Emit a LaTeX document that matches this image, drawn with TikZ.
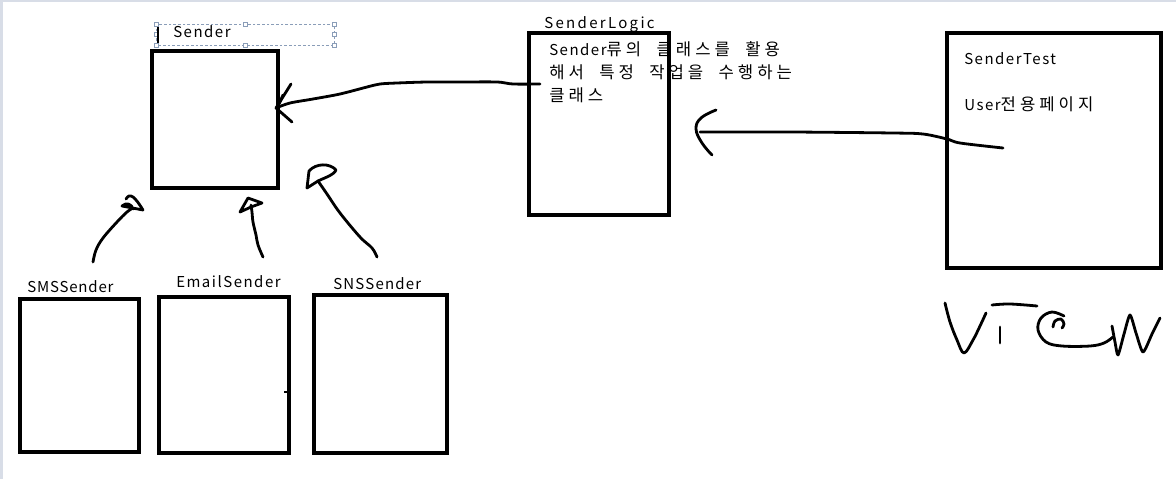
\documentclass[tikz,border=0pt]{standalone}
\usepackage{fontspec}
\setmainfont{Noto Sans CJK KR}[LetterSpace=10]
\definecolor{edge}{HTML}{D8DDE7}
\definecolor{selbox}{HTML}{8A9DB8}
\makeatletter
\newcommand\hg[1]{{\fontsize{12.5pt}{17.25pt}\selectfont\@tfor\hg@c:=#1\do{\hg@c\hskip3pt\relax}}}
\makeatother
\newcommand\wsp{\hspace*{8.5pt}}
\tikzset{
  box/.style={draw=black, line width=2.6pt, rectangle, inner sep=0pt},
  lbl/.style={anchor=base west, inner sep=0pt, font=\fontsize{11.25pt}{17.25pt}\selectfont},
  hand/.style={draw=black, line width=2.1pt, line cap=round, line join=round},
  handle/.style={draw=selbox, fill=white, line width=0.5pt, rectangle, minimum size=3pt, inner sep=0pt},
}
\begin{document}
\begin{tikzpicture}[x=0.75pt, y=-0.75pt]
\useasboundingbox (0,0) rectangle (1176,479);
\fill[white] (0,0) rectangle (1176,479);
\fill[edge] (0,0) rectangle (2.5,479);
\fill[edge] (0,0) rectangle (1176,1.5);

% boxes
\node[box, minimum width=94.5pt, minimum height=102.75pt] (sender) at (215,119.5) {};
\node[box, minimum width=105pt, minimum height=136.5pt] (logic) at (599,124) {};
\node[box, minimum width=160.5pt, minimum height=176.25pt] (test) at (1054,150.5) {};
\node[box, minimum width=89.25pt, minimum height=114.75pt] (sms) at (79.5,375.5) {};
\node[box, minimum width=97.5pt, minimum height=117pt] (email) at (224,375) {};
\node[box, minimum width=99.75pt, minimum height=118.5pt] (sns) at (380.5,374) {};

% selected label box of Sender
\draw[selbox, line width=0.6pt, dash pattern=on 2pt off 1.5pt] (156,24) rectangle (334,45);
\foreach \hx/\hy in {156/24,245/24,334/24,156/34.5,334/34.5,156/45,245/45,334/45}
  \node[handle] at (\hx,\hy) {};
\draw[black, line width=0.8pt] (158,27) -- (158,43);

% labels
\node[lbl] (senderlbl) at (173,37) {Sender};
\node[lbl] (logiclbl) at (544,28) {\addfontfeature{LetterSpace=15.5}SenderLogic};
\node[lbl] (l1) at (549,55.5) {Sender\hg{류의}\wsp\hg{클래스를}\wsp\hg{활용}};
\node[lbl] (l2) at (549,78.5) {\hg{해서}\wsp\hg{특정}\wsp\hg{작업을}\wsp\hg{수행하는}};
\node[lbl] (l3) at (549,101.5) {\hg{클래스}};
\node[lbl] (t1) at (964,64) {SenderTest};
\node[lbl] (t2) at (964,110) {User\hg{전용페이지}};
\node[lbl] (smslbl) at (27,292) {\addfontfeature{LetterSpace=5.5}SMSSender};
\node[lbl] (emaillbl) at (176,287) {EmailSender};
\node[lbl] (snslbl) at (333,289) {\addfontfeature{LetterSpace=8}SNSSender};

% small tick on EmailSender box
\draw[black, line width=1.2pt] (284,392) -- (289,392);

% hand drawn arrow: SenderLogic -> Sender
\coordinate (a1t) at (276,108);
\draw[hand] plot[smooth, tension=0.5] coordinates {(540,84) (513,84) (497,82) (460,82) (427,82) (397,83) (380,84) (367,87) (340,94) (313,99) (290,103) (276,108)};
\draw[hand] (291,84) -- (a1t) -- (292,122);
\draw[hand] (283,95) -- (279,104);

% hand drawn arrow: SenderTest -> SenderLogic
\draw[hand] plot[smooth, tension=0.5] coordinates {(1003,148) (960,143) (947,139) (923,134) (893,133) (793,132) (727,132) (700,132)};
\draw[hand] plot[smooth, tension=0.7] coordinates {(716,110) (701,118) (696,129) (702,143) (712,155)};

% inheritance strokes
\draw[hand] plot[smooth, tension=0.6] coordinates {(93,262) (96,250) (103,238) (117,222) (127,212) (133,208)};
\draw[hand] (126,199) .. controls (130,192) and (135,197) .. (143,210) -- (122,206) .. controls (126,202) and (132,204) .. (133,209);

\draw[hand] plot[smooth, tension=0.6] coordinates {(263,257) (258,245) (256,235) (253,222) (252,212) (251,205)};
\draw[hand] (251,207) -- (240,212) -- (248,198) -- (262,203) -- (251,207);

\draw[hand] plot[smooth, tension=0.6] coordinates {(377,257) (372,248) (360,237) (340,213) (327,194) (318,181)};
\draw[hand] (307,188) -- (309,171) .. controls (316,163) and (330,163) .. (336,170) .. controls (334,175) and (324,178) .. (318,181) -- (307,188);

% "View" handwriting
\draw[hand] plot[smooth, tension=0.6] coordinates {(945,303) (950,322) (957,340) (964,353) (973,340) (980,326) (986,313)};
\draw[hand] (1000,327) -- (1000,343);
\draw[hand] plot[smooth, tension=0.6] coordinates {(992,305) (1010,304) (1037,306)};
\draw[hand] plot[smooth, tension=0.6] coordinates {(1064,316) (1052,312) (1041,318) (1038,330) (1046,342) (1062,346) (1090,346) (1104,343) (1113,337)};
\draw[hand] plot[smooth, tension=0.6] coordinates {(1053,327) (1055,321) (1061,319) (1064,324) (1062,328)};
\draw[hand] plot[smooth, tension=0.4] coordinates {(1112,326) (1115,342) (1118,355) (1124,334) (1130,315) (1136,333) (1143,352) (1152,334) (1160,318)};
\end{tikzpicture}
\end{document}
